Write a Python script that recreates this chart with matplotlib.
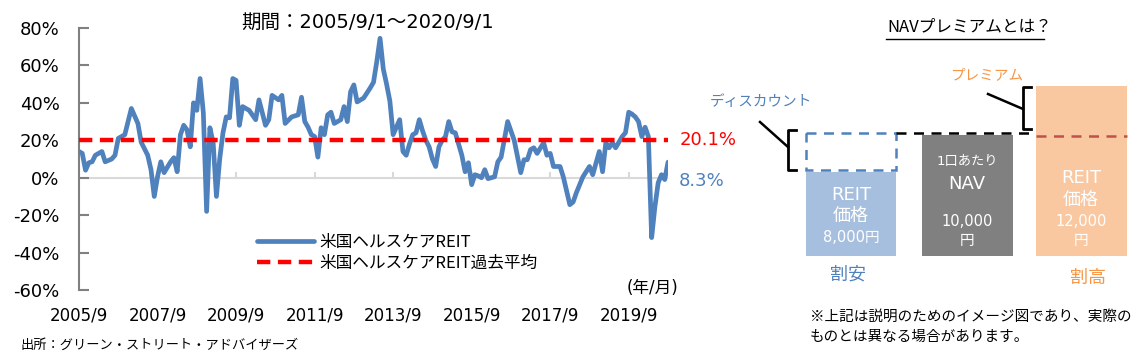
import matplotlib
matplotlib.use("Agg")
import matplotlib.pyplot as plt
from matplotlib.patches import Rectangle

plt.rcParams['font.family'] = ['DejaVu Sans', 'Noto Sans CJK JP']
JP = ['Noto Sans CJK JP', 'DejaVu Sans']

# months since 2005/9 and NAV premium (%)
months = [0, 1, 2, 3, 4, 5, 7, 8, 10, 11, 12, 14, 16, 18, 19, 21, 22, 23, 24, 25,
          26, 28, 29, 30, 31, 32, 33, 34, 35, 36, 37, 38, 39, 40, 41, 42, 43, 44, 45, 46,
          47, 48, 49, 50, 52, 54, 55, 56, 57, 58, 59, 61, 62, 63, 65, 67, 68, 69, 70, 71,
          72, 73, 74, 75, 76, 77, 78, 80, 81, 82, 83, 84, 85, 87, 89, 90, 91, 92, 93, 94,
          95, 96, 97, 98, 99, 100, 101, 102, 103, 104, 105, 106, 107, 108, 109, 110, 111, 112, 113, 114,
          115, 116, 117, 118, 119, 120, 121, 122, 123, 124, 125, 127, 128, 129, 131, 133, 135, 136, 137, 138,
          139, 140, 142, 143, 144, 145, 147, 148, 150, 151, 152, 154, 155, 156, 157, 159, 160, 161, 162, 163,
          164, 166, 167, 168, 169, 170, 171, 172, 173, 174, 175, 176, 177, 178, 179, 180]
premium = [14, 13, 4, 8, 8.5, 12, 14, 8.5, 10, 12, 21, 23, 37, 29, 19, 12, 4.3, -10, 0.5, 8.5,
           2.7, 8.5, 10.7, 3.2, 23, 28, 25.6, 16.5, 40, 36, 53, 34.7, -18, 26.7, 18.7, -10, 10, 24, 32.5, 32,
           53, 52, 28, 38, 36, 31, 41.6, 34.7, 28, 31, 44, 41.6, 44, 29, 32.5, 33.6, 43, 30, 27, 23,
           22, 11, 26.7, 23, 33.6, 35, 29, 31, 38, 30, 46, 49.6, 40.5, 42.6, 48, 51, 62, 74.5, 58, 50,
           41, 23, 27, 31, 14, 12, 18, 23, 24, 31, 25, 20, 16.5, 10, 6, 16.5, 20, 22, 30, 24.5,
           24, 18, 12, 3.2, 8, -3.7, 1.6, 1, 0, 4.3, -0.5, 0.5, 8.5, 11, 30, 20, 2.7, 9.6, 9.6, 15,
           16, 13, 18.7, 12, 13, 6, 6, 0.5, -14.4, -13, -8, 0.5, 3.2, 6, 1.6, 14, 3.2, 18.7, 16, 18.7,
           16, 22, 24, 35, 34, 32.5, 30, 22, 27, 22, -32, -15.5, -2.7, 1.6, -1, 8.3]
avg_premium = 20.1
latest = 8.3

tick_months = [0, 24, 48, 72, 96, 120, 144, 168]
tick_labels = ["2005/9", "2007/9", "2009/9", "2011/9", "2013/9", "2015/9", "2017/9", "2019/9"]

blue = "#4f81bd"
orange = "#f79646"

fig = plt.figure(figsize=(11.43, 3.59), dpi=100)
W, H = 1143, 359

ax = fig.add_axes([79 / W, 69 / H, (668 - 79) / W, (290 - 28) / H])
ax.plot(months, premium, color=blue, lw=3.4, solid_joinstyle='round', solid_capstyle='round',
        label="米国ヘルスケアREIT", zorder=3)
ax.plot([months[0], months[-1]], [avg_premium, avg_premium], color="#ff0000", lw=3.2,
        dashes=(3.0, 1.7), label="米国ヘルスケアREIT過去平均", zorder=4)
ax.axhline(0, color="#d9d9d9", lw=1.5, zorder=1)
ax.set_xlim(0, 180)
ax.set_ylim(-60, 80)
ax.set_yticks(range(-60, 81, 20))
ax.set_yticklabels([f"{v}%" for v in range(-60, 81, 20)], fontsize=13)
ax.set_xticks(tick_months)
ax.set_xticklabels(tick_labels, fontsize=12)
for s in ["top", "right", "bottom"]:
    ax.spines[s].set_visible(False)
ax.spines["left"].set_color("#808080")
ax.spines["left"].set_linewidth(1.5)
ax.tick_params(axis="y", direction="in", length=7, width=1.5, color="#808080", pad=14)
ax.tick_params(axis="x", length=0, pad=12)
for m in tick_months[1:]:
    ax.plot([m, m], [0, 2.5], color="#d9d9d9", lw=1.5, zorder=1)
ax.patch.set_alpha(0)

leg = ax.legend(loc="upper left", bbox_to_anchor=(0.277, 0.27), frameon=False,
                prop={'family': JP, 'size': 12},
                handlelength=3.4, handletextpad=0.35, labelspacing=0.2)

# overlay in pixel coordinates for annotations and the NAV diagram
ov = fig.add_axes([0, 0, 1, 1])
ov.set_xlim(0, W)
ov.set_ylim(H, 0)
ov.axis("off")

ov.text(241, 22, "期間：2005/9/1～2020/9/1", fontsize=14, va="center", ha="left")
ov.text(680, 140, "20.1%", fontsize=13, color="#ff0000", va="center", ha="left")
ov.text(679, 181, "8.3%", fontsize=13, color=blue, va="center", ha="left")
ov.text(627, 288, "(年/月)", fontsize=12, va="center", ha="left")
ov.text(20, 345, "出所：グリーン・ストリート・アドバイザーズ", fontsize=9.5, va="center", ha="left",
        family=JP)

# NAV premium diagram
ov.text(887, 27, "NAVプレミアムとは？", fontsize=12, va="center", ha="left", family=JP)
ov.plot([886, 1044], [39, 39], color="black", lw=1)
ov.text(950, 75, "プレミアム", fontsize=10.5, color=orange, va="center", ha="left", family=JP)
ov.text(710, 102, "ディスカウント", fontsize=10.5, color=blue, va="center", ha="left", family=JP)

ov.add_patch(Rectangle((806, 172), 90, 84, color="#a7bfde", lw=0))
ov.add_patch(Rectangle((806, 133), 90, 37, fill=False, ec=blue, lw=1.8, ls=(0, (4, 3))))
ov.add_patch(Rectangle((922, 135), 91, 121, color="#808080", lw=0))
ov.add_patch(Rectangle((1036, 86), 91, 170, color="#fac8a0", lw=0))
ov.plot([896, 1036], [133, 133], color="black", lw=1.8, ls=(0, (4, 3)))
ov.plot([1036, 1127], [136, 136], color="#c0504d", lw=1.8, ls=(0, (4, 3)))

ov.plot([796, 788, 788, 796], [130, 130, 170, 170], color="black", lw=2)
ov.plot([760, 788], [122, 147], color="black", lw=1.8)
ov.plot([1031, 1023, 1023, 1031], [87, 87, 129, 129], color="black", lw=2)
ov.plot([988, 1023], [94, 109], color="black", lw=1.8)

ov.text(851, 195, "REIT", fontsize=13, color="white", ha="center", va="center")
ov.text(851, 216, "価格", fontsize=13, color="white", ha="center", va="center")
ov.text(851, 238, "8,000円", fontsize=10.5, color="white", ha="center", va="center")
ov.text(967, 162, "1口あたり", fontsize=9.5, color="white", ha="center", va="center")
ov.text(967, 184, "NAV", fontsize=13, color="white", ha="center", va="center")
ov.text(967, 222, "10,000", fontsize=10.5, color="white", ha="center", va="center")
ov.text(967, 240, "円", fontsize=10.5, color="white", ha="center", va="center")
ov.text(1081, 178, "REIT", fontsize=13, color="white", ha="center", va="center")
ov.text(1081, 200, "価格", fontsize=13, color="white", ha="center", va="center")
ov.text(1081, 222, "12,000", fontsize=10.5, color="white", ha="center", va="center")
ov.text(1081, 240, "円", fontsize=10.5, color="white", ha="center", va="center")

ov.text(848, 275, "割安", fontsize=13, color=blue, ha="center", va="center", family=JP)
ov.text(1088, 278, "割高", fontsize=13, color=orange, ha="center", va="center", family=JP)
ov.text(810, 317, "※上記は説明のためのイメージ図であり、実際の", fontsize=10.5, ha="left", va="center",
        family=JP)
ov.text(810, 337, "ものとは異なる場合があります。", fontsize=10.5, ha="left", va="center", family=JP)

fig.savefig("out.png", dpi=100)
